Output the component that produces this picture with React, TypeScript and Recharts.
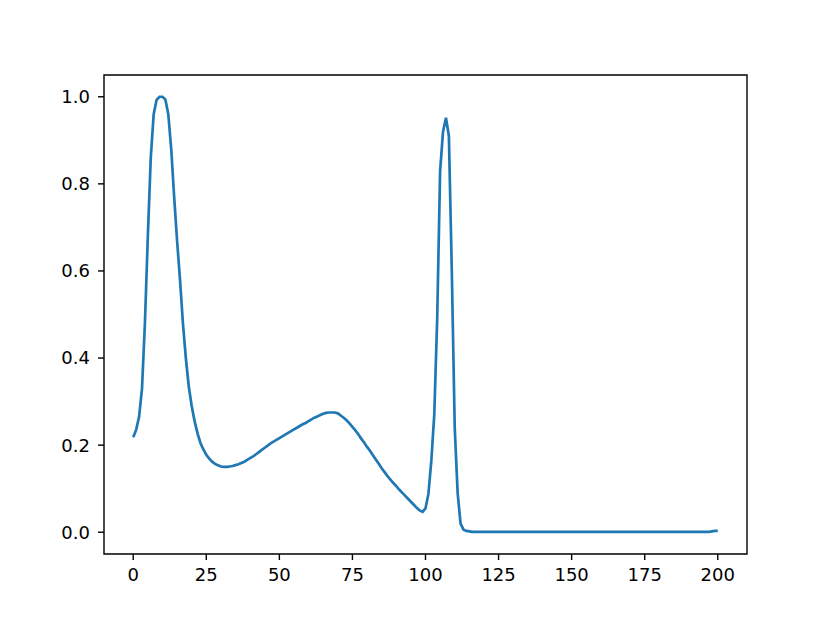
import { LineChart, Line, XAxis, YAxis, ReferenceArea } from "recharts";

// sample positions 0..200, one per unit
const xValues: number[] = Array.from({ length: 201 }, (_, i) => i);

// signal level, one per x position
const signal: number[] = [
  0.218, 0.235, 0.265, 0.33, 0.48, 0.68, 0.86, 0.96, 0.993, 1.0,
  1.0, 0.994, 0.96, 0.88, 0.77, 0.67, 0.58, 0.48, 0.40, 0.335,
  0.29, 0.255, 0.227, 0.205, 0.19, 0.178, 0.169, 0.162, 0.157, 0.154,
  0.151, 0.150, 0.150, 0.151, 0.152, 0.154, 0.156, 0.159, 0.162, 0.166,
  0.170, 0.174, 0.179, 0.184, 0.189, 0.194, 0.199, 0.204, 0.208, 0.212,
  0.216, 0.220, 0.224, 0.228, 0.232, 0.236, 0.240, 0.244, 0.248, 0.251,
  0.255, 0.259, 0.263, 0.266, 0.269, 0.272, 0.274, 0.275, 0.275, 0.275,
  0.273, 0.268, 0.263, 0.257, 0.250, 0.242, 0.234, 0.225, 0.215, 0.206,
  0.196, 0.187, 0.177, 0.167, 0.157, 0.147, 0.138, 0.129, 0.121, 0.113,
  0.106, 0.098, 0.091, 0.084, 0.077, 0.070, 0.063, 0.056, 0.050, 0.047,
  0.055, 0.088, 0.165, 0.27, 0.49, 0.83, 0.92, 0.952, 0.91, 0.60,
  0.24, 0.09, 0.02, 0.006, 0.003, 0.002, 0.001, 0.001, 0.001, 0.001,
  0.001, 0.001, 0.001, 0.001, 0.001, 0.001, 0.001, 0.001, 0.001, 0.001,
  0.001, 0.001, 0.001, 0.001, 0.001, 0.001, 0.001, 0.001, 0.001, 0.001,
  0.001, 0.001, 0.001, 0.001, 0.001, 0.001, 0.001, 0.001, 0.001, 0.001,
  0.001, 0.001, 0.001, 0.001, 0.001, 0.001, 0.001, 0.001, 0.001, 0.001,
  0.001, 0.001, 0.001, 0.001, 0.001, 0.001, 0.001, 0.001, 0.001, 0.001,
  0.001, 0.001, 0.001, 0.001, 0.001, 0.001, 0.001, 0.001, 0.001, 0.001,
  0.001, 0.001, 0.001, 0.001, 0.001, 0.001, 0.001, 0.001, 0.001, 0.001,
  0.001, 0.001, 0.001, 0.001, 0.001, 0.001, 0.001, 0.001, 0.002, 0.003,
  0.003,
];

const xTicks = [0, 25, 50, 75, 100, 125, 150, 175, 200];
const yTicks = [0, 0.2, 0.4, 0.6, 0.8, 1.0];

const chartData = xValues.map((x, i) => ({ x, y: signal[i] }));

const tickStyle = { fill: "#000", fontSize: 18, fontFamily: "DejaVu Sans" };

export default function App() {
  return (
    <div style={{ position: "absolute", left: 0, top: 0, background: "#fff" }}>
      <LineChart
        width={830}
        height={623}
        data={chartData}
        margin={{ top: 75, right: 83, left: 0, bottom: 0 }}
      >
        <XAxis
          type="number"
          dataKey="x"
          domain={[-10, 210]}
          ticks={xTicks}
          allowDataOverflow
          height={69}
          axisLine={false}
          tickLine={{ stroke: "#000", strokeWidth: 1.4 }}
          tickSize={6}
          tickMargin={8}
          tick={tickStyle}
        />
        <YAxis
          type="number"
          domain={[-0.05, 1.05]}
          ticks={yTicks}
          allowDataOverflow
          width={104}
          axisLine={false}
          tickLine={{ stroke: "#000", strokeWidth: 1.4 }}
          tickSize={6}
          tickMargin={8}
          tick={tickStyle}
          tickFormatter={(v) => Number(v).toFixed(1)}
        />
        <Line
          type="linear"
          dataKey="y"
          stroke="#1f77b4"
          strokeWidth={2.7}
          dot={false}
          isAnimationActive={false}
        />
        <ReferenceArea
          x1={-10}
          x2={210}
          y1={-0.05}
          y2={1.05}
          fill="none"
          stroke="#000"
          strokeWidth={1.4}
          ifOverflow="visible"
        />
      </LineChart>
    </div>
  );
}
